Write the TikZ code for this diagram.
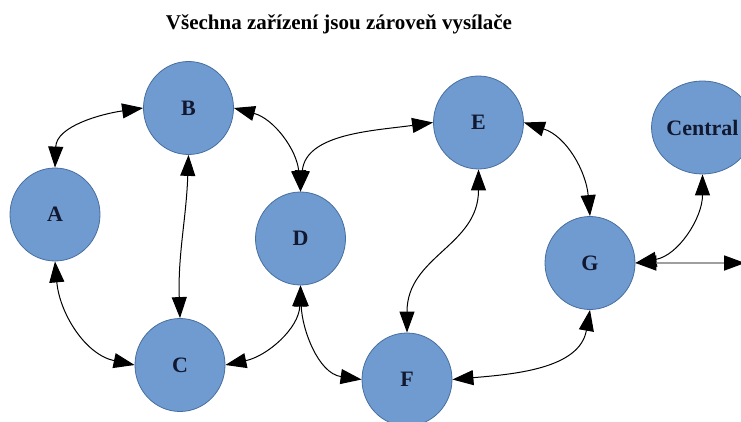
\documentclass[tikz,border=0pt]{standalone}
\usepackage{fontspec}
\setmainfont{Liberation Serif}
\usetikzlibrary{arrows.meta,shapes.geometric}
\definecolor{nodefill}{RGB}{112,155,208}
\definecolor{nodeline}{RGB}{70,110,160}
\definecolor{labeltext}{RGB}{18,24,48}
\tikzset{
  tip/.tip={Triangle[length=21pt,width=15pt]},
  dev/.style={ellipse, draw=nodeline, line width=0.8pt, fill=nodefill,
    minimum width=90pt, minimum height=93pt, inner sep=0pt,
    font=\fontsize{22}{24}\selectfont\bfseries, text=labeltext},
  link/.style={line width=1pt, black, {tip}-{tip}},
  graylink/.style={line width=1.8pt, gray!75, {tip[black]}-{tip[black]}},
  titletext/.style={font=\fontsize{21}{24}\selectfont\bfseries, inner sep=0pt}
}
\begin{document}
\begin{tikzpicture}[x=1pt,y=1pt]
\useasboundingbox (0,0) rectangle (741,-422);
\clip (0,0) rectangle (741,-422);
\node[titletext, anchor=base] (title) at (339,-30) {Všechna zařízení jsou zároveň vysílače};
\node[dev] (A) at (55,-214.5) {A};
\node[dev] (B) at (188.5,-108) {B};
\node[dev] (C) at (180,-365) {C};
\node[dev] (D) at (300.5,-238.5) {D};
\node[dev] (E) at (478.5,-122.5) {E};
\node[dev] (F) at (407,-379.5) {F};
\node[dev] (G) at (590,-263) {G};
\node[dev] (Cen) at (702.5,-127.5) {Central};
\coordinate (R) at (745,-263);
\draw[link] (A.north) to[out=88,in=188] (B.west);
\draw[link] (B.east) to[out=-15,in=95] (D.north);
\draw[link] (B.south) to[out=-92,in=92] (C.north);
\draw[link] (A.south) to[out=-85,in=168] (C.west);
\draw[link] (C.east) to[out=12,in=-92] (D.south);
\draw[link] (D.south) to[out=-88,in=172] (F.west);
\draw[link] (D.north) to[out=85,in=188] (E.west);
\draw[link] (E.east) to[out=-18,in=95] (G.north);
\draw[link] (E.south) to[out=-90,in=90,looseness=1.1] (F.north);
\draw[link] (F.east) to[out=5,in=-100] (G.south);
\draw[link] (G.east) to[out=10,in=-90] (Cen.south);
\draw[graylink] (G.east) -- (R);
\end{tikzpicture}
\end{document}
